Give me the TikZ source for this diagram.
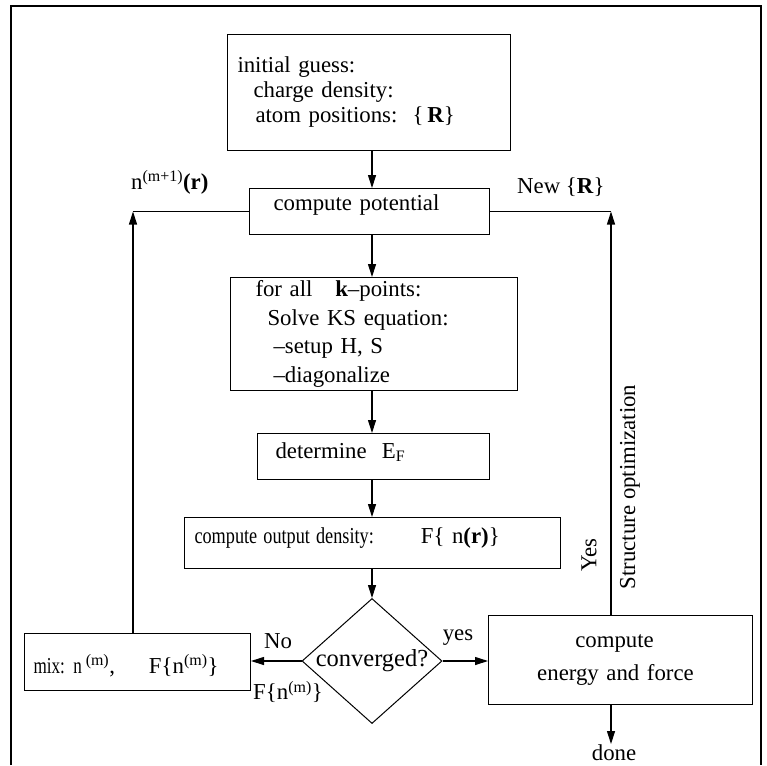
\documentclass[tikz,border=0pt]{standalone}
\usepackage{fontspec}
\usepackage{graphicx}
\setmainfont{Liberation Serif}
\usetikzlibrary{arrows.meta,shapes.geometric}
\begin{document}
\begin{tikzpicture}[x=1pt,y=-1pt,
  font=\fontsize{22.8pt}{25pt}\selectfont,
  box/.style={draw, line width=1pt, inner ysep=0pt, anchor=north west, align=left},
  arr/.style={line width=1.1pt, -{Triangle[length=13pt,width=8pt]}},
  ln/.style={line width=1.1pt},
  lbl/.style={inner sep=0pt}]
\useasboundingbox (0,0) rectangle (767,765);
\draw[line width=1.8pt] (11,765) -- (11,6) -- (761,6) -- (761,765);
% boxes
\node[box, minimum width=283pt, minimum height=116pt, inner xsep=10pt, text width=263pt,
      font=\fontsize{22.8pt}{25pt}\selectfont] (top) at (227,34)
  {initial guess:\\\hspace*{16pt}charge density:\\\hspace*{18pt}atom positions:\ \ \{\,\textbf{R}\}};
\node[box, minimum width=240pt, minimum height=46pt, inner xsep=24pt, text width=192pt,
      text height=10pt, text depth=11.6pt] (pot) at (249,188) {compute potential};
\node[box, minimum width=287pt, minimum height=113pt, inner xsep=25pt, text width=237pt,
      font=\fontsize{22.8pt}{28.5pt}\selectfont] (kpt) at (230,277)
  {for all\ \ \ \textbf{k}--points:\\\hspace*{12pt}Solve KS equation:\\\hspace*{18pt}--setup H, S\\\hspace*{18pt}--diagonalize};
\node[box, minimum width=232pt, minimum height=46pt, inner xsep=18pt, text width=196pt,
      text height=14pt, text depth=10pt] (ef) at (257,433) {determine\ \ E\textsubscript{F}};
\node[box, minimum width=376pt, minimum height=51pt, inner xsep=10pt, text width=356pt,
      text height=11pt, text depth=11pt] (out) at (184,517)
  {\scalebox{0.8}[1]{compute output density:}\hspace{47pt}F\{\ n\textbf{(r)}\}};
\node[box, minimum width=226pt, minimum height=57pt, inner xsep=9pt, text width=208pt,
      text height=26pt, text depth=3pt] (mix) at (24,633)
  {\scalebox{0.75}[1]{mix: n}\,\textsuperscript{(m)},\hspace{34pt}F\{n\textsuperscript{(m)}\}};
\node[box, minimum width=264pt, minimum height=89pt, inner xsep=0pt, text width=256pt,
      align=center, font=\fontsize{22.8pt}{33pt}\selectfont] (en) at (488,615)
  {compute\hspace{12pt}\mbox{}\\energy and force\hspace{10pt}\mbox{}};
\node[draw, line width=1pt, diamond, aspect=1.12, minimum width=140pt, minimum height=125pt,
      inner sep=0pt, font=\fontsize{24.5pt}{26pt}\selectfont] (dia) at (372,661) {converged?};
% labels
\node[lbl, anchor=base west] (nlab) at (131,189) {n\textsuperscript{(m+1)}\textbf{(r)}};
\node[lbl, anchor=base west] (newR) at (517,193) {New \{\textbf{R}\}};
\node[lbl] (no) at (278,641) {No};
\node[lbl] (fn) at (288,692) {F\{n\textsuperscript{(m)}\}};
\node[lbl] (yes) at (458,638) {yes};
\node[lbl, rotate=90] (yeslab) at (589,555) {Yes};
\node[lbl, rotate=90] (struct) at (630,487) {Structure optimization};
\node[lbl, anchor=north] (done) at (614,744) {done};
% coordinates
\coordinate (cx) at (372,0);
\coordinate (L) at (133,0);
\coordinate (Rx) at (611,0);
% connectors
\draw[arr] (top.south -| cx) -- (pot.north -| cx);
\draw[arr] (pot.south -| cx) -- (kpt.north -| cx);
\draw[arr] (kpt.south -| cx) -- (ef.north -| cx);
\draw[arr] (ef.south -| cx) -- (out.north -| cx);
\draw[arr] (out.south -| cx) -- (dia.north);
\draw[arr] (dia.west) -- (dia.west -| mix.east);
\draw[arr] (dia.east) -- (dia.east -| en.west);
\draw[ln] (pot.west) -- (pot.west -| L);
\draw[arr] (mix.north -| L) -- (pot.west -| L);
\draw[ln] (pot.east) -- (pot.east -| Rx);
\draw[arr] (en.north -| Rx) -- (pot.east -| Rx);
\draw[arr] (en.south -| Rx) -- (done.north -| Rx);
\end{tikzpicture}
\end{document}
